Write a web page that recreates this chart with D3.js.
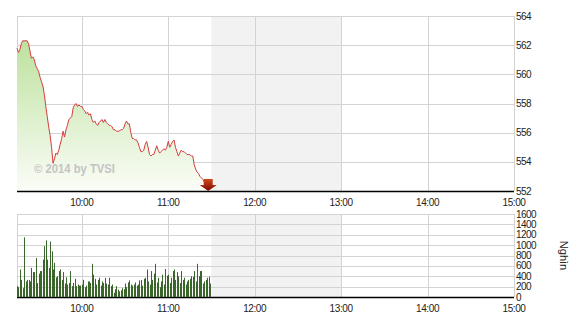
<!DOCTYPE html>
<html>
<head>
<meta charset="utf-8">
<script src="https://cdn.jsdelivr.net/npm/d3@7"></script>
<style>
  body { margin: 0; background: #fff; }
  svg { display: block; font-family: "Liberation Sans", Arial, sans-serif; }
</style>
</head>
<body>
<script>
// intraday index (price) - time / value pairs
const priceTimes = ["09:15","09:16","09:17","09:18","09:19","09:20","09:22","09:23","09:24","09:25",
  "09:26","09:27","09:28","09:29","09:30","09:31","09:32","09:33","09:34","09:35",
  "09:36","09:37","09:38","09:39","09:40","09:41","09:42","09:43","09:44","09:45",
  "09:46","09:47","09:48","09:49","09:50","09:51","09:52","09:53","09:54","09:55",
  "09:56","09:57","09:58","09:59","10:00","10:01","10:02","10:03","10:04","10:05",
  "10:06","10:07","10:08","10:09","10:10","10:11","10:12","10:13","10:14","10:15",
  "10:16","10:17","10:18","10:19","10:20","10:21","10:22","10:23","10:24","10:25",
  "10:26","10:27","10:28","10:29","10:30","10:31","10:32","10:33","10:34","10:35",
  "10:36","10:37","10:38","10:39","10:40","10:41","10:42","10:43","10:44","10:45",
  "10:46","10:47","10:48","10:49","10:50","10:51","10:52","10:53","10:54","10:55",
  "10:56","10:57","10:58","10:59","11:00","11:01","11:02","11:03","11:04","11:05",
  "11:06","11:07","11:08","11:09","11:10","11:11","11:12","11:13","11:14","11:15",
  "11:16","11:17","11:18","11:19","11:20","11:21","11:22","11:23","11:24","11:25","11:26"];
const priceValues = [561.8,561.5,561.7,562.1,562.3,562.3,562.3,562.1,561.6,561.1,
  561.2,561.0,560.6,560.4,560.2,559.8,559.5,559.2,558.6,557.8,
  557.1,556.4,555.8,555.0,553.9,554.2,554.6,554.5,554.8,555.2,
  555.6,556.1,555.7,556.2,556.5,556.9,557.0,557.1,557.7,557.9,
  558.0,557.8,557.9,557.8,557.8,557.6,557.5,557.3,557.4,557.2,
  557.3,556.9,556.7,556.8,556.6,556.5,556.7,556.8,556.9,556.7,
  556.9,556.7,556.6,556.5,556.5,556.4,556.2,556.2,556.1,556.1,
  556.1,556.2,556.2,556.3,556.6,556.8,556.6,556.6,556.0,555.6,
  555.6,555.5,555.5,555.3,555.0,554.7,554.7,554.8,555.2,555.4,
  555.0,554.5,554.4,554.5,554.5,554.8,555.1,554.8,554.6,554.7,
  554.8,554.9,554.8,555.0,555.4,555.0,555.2,555.4,555.5,555.0,
  554.7,554.4,554.6,554.8,554.7,554.7,554.6,554.5,554.5,554.5,
  554.4,554.4,553.8,553.5,553.3,553.2,553.0,552.9,552.8,552.6,552.5];

// volume per minute (thousand shares), starting at volumeStart
const volumeStart = "09:15";
const volumeValues = [210,190,530,330,170,1150,300,
  330,330,300,560,480,480,750,270,450,500,500,720,980,1090,720,
  560,1070,880,530,660,380,400,500,530,330,480,260,380,240,270,500,
  210,270,350,210,240,220,220,240,330,190,220,300,300,270,640,
  430,350,240,330,370,220,300,270,370,260,240,370,210,240,
  80,150,210,140,110,130,170,150,260,190,280,320,240,220,240,
  280,220,240,320,330,220,350,370,530,300,240,500,330,450,640,
  280,370,190,300,430,240,540,410,430,270,370,500,530,330,480,
  400,270,500,330,370,240,300,330,350,400,390,500,300,640,400,
  500,500,260,300,330,370,390,260];

const hourTicks = ["10:00","11:00","12:00","13:00","14:00","15:00"];
const priceTicks = [552,554,556,558,560,562,564];
const volumeTicks = [0,200,400,600,800,1000,1200,1400,1600];
const dayStart = "09:15", dayEnd = "15:00";
const breakStart = "11:30", breakEnd = "13:00";
const watermark = "\u00a9 2014 by TVSI";
const volumeUnit = "Nghìn";

const W = 570, H = 320;
const left = 17, right = 514;
const topP = 16, bottomP = 191;
const topV = 214, bottomV = 297;

const parse = d3.timeParse("%H:%M");

const x = d3.scaleTime().domain([parse(dayStart), parse(dayEnd)]).range([left, right]);
const yP = d3.scaleLinear().domain([552, 564]).range([bottomP, topP]);
const yV = d3.scaleLinear().domain([0, 1600]).range([bottomV, topV]);

const prices = priceTimes.map((t, i) => ({ t: parse(t), v: priceValues[i] }));
const vol0 = parse(volumeStart);
const volumes = volumeValues.map((v, i) => ({ t: d3.timeMinute.offset(vol0, i), v: v }));

const svg = d3.select("body").append("svg")
  .attr("width", W)
  .attr("height", H);

const defs = svg.append("defs");
const grad = defs.append("linearGradient")
  .attr("id", "areaFill")
  .attr("gradientUnits", "userSpaceOnUse")
  .attr("x1", 0).attr("x2", 0)
  .attr("y1", topP).attr("y2", bottomP);
grad.append("stop").attr("offset", "0%").attr("stop-color", "#b3dd8f");
grad.append("stop").attr("offset", "100%").attr("stop-color", "#fbfdf8");

const arrowGrad = defs.append("linearGradient")
  .attr("id", "arrowFill")
  .attr("x1", 0).attr("x2", 0).attr("y1", 0).attr("y2", 1);
arrowGrad.append("stop").attr("offset", "0%").attr("stop-color", "#cf4a1c");
arrowGrad.append("stop").attr("offset", "100%").attr("stop-color", "#7c0800");

// one panel: lunch break shade, grid, labels
function panel(y, ticks, y0, y1) {
  const g = svg.append("g");
  g.append("rect")
    .attr("x", x(parse(breakStart)))
    .attr("y", y1)
    .attr("width", x(parse(breakEnd)) - x(parse(breakStart)))
    .attr("height", y0 - y1)
    .attr("fill", "#f2f2f2");

  g.selectAll(".hgrid")
    .data(ticks)
    .enter().append("line")
    .attr("x1", left).attr("x2", right)
    .attr("y1", d => Math.round(y(d)) + 0.5)
    .attr("y2", d => Math.round(y(d)) + 0.5)
    .attr("stroke", "#d3d3d3");

  g.selectAll(".vgrid")
    .data([dayStart].concat(hourTicks))
    .enter().append("line")
    .attr("x1", d => Math.round(x(parse(d))) + 0.5)
    .attr("x2", d => Math.round(x(parse(d))) + 0.5)
    .attr("y1", y1).attr("y2", y0)
    .attr("stroke", "#d3d3d3");

  // right hand labels
  g.selectAll(".ylab")
    .data(ticks)
    .enter().append("text")
    .attr("x", right + 2)
    .attr("y", d => y(d))
    .attr("dy", "0.35em")
    .attr("font-size", 10)
    .attr("letter-spacing", -0.6)
    .attr("fill", "#222")
    .text(d => d);

  // bottom time labels
  g.selectAll(".xlab")
    .data(hourTicks)
    .enter().append("text")
    .attr("x", d => x(parse(d)))
    .attr("y", y0 + 15)
    .attr("text-anchor", "middle")
    .attr("font-size", 10)
    .attr("letter-spacing", -0.4)
    .attr("fill", "#222")
    .text(d => d);
  return g;
}

panel(yP, priceTicks, bottomP, topP);
panel(yV, volumeTicks, bottomV, topV);

// price area + line
const area = d3.area()
  .x(d => x(d.t))
  .y0(bottomP)
  .y1(d => yP(d.v));
const line = d3.line()
  .x(d => x(d.t))
  .y(d => yP(d.v));

svg.append("path")
  .datum(prices)
  .attr("d", area)
  .attr("fill", "url(#areaFill)");

svg.append("text")
  .attr("x", 34)
  .attr("y", 173)
  .attr("font-size", 13)
  .attr("font-weight", "bold")
  .attr("textLength", 81)
  .attr("lengthAdjust", "spacingAndGlyphs")
  .attr("fill", "#c4c4c4")
  .text(watermark);

svg.append("path")
  .datum(prices)
  .attr("d", line)
  .attr("fill", "none")
  .attr("stroke", "#d43c3c")
  .attr("stroke-width", 1);

// axis baselines
svg.append("line")
  .attr("x1", left).attr("x2", right)
  .attr("y1", bottomP + 0.5).attr("y2", bottomP + 0.5)
  .attr("stroke", "#000").attr("stroke-width", 1.5);
svg.append("line")
  .attr("x1", left).attr("x2", right)
  .attr("y1", bottomV + 0.5).attr("y2", bottomV + 0.5)
  .attr("stroke", "#000").attr("stroke-width", 1.5);

// down arrow at last price
const last = prices[prices.length - 1];
svg.append("path")
  .attr("transform", `translate(${x(last.t) + 2.5},${bottomP})`)
  .attr("d", "M-4.5,-12H4.5V-6H8.5L0,0L-8.5,-6H-4.5Z")
  .attr("fill", "url(#arrowFill)");

// volume bars
svg.selectAll(".bar")
  .data(volumes)
  .enter().append("rect")
  .attr("class", "bar")
  .attr("x", d => Math.round(x(d.t)))
  .attr("y", d => yV(d.v))
  .attr("width", 1)
  .attr("height", d => bottomV - yV(d.v))
  .attr("fill", "#3a662c");

// unit label
svg.append("text")
  .attr("transform", `translate(560,${(topV + bottomV) / 2}) rotate(90)`)
  .attr("text-anchor", "middle")
  .attr("font-size", 11)
  .attr("fill", "#222")
  .text(volumeUnit);
</script>
</body>
</html>
